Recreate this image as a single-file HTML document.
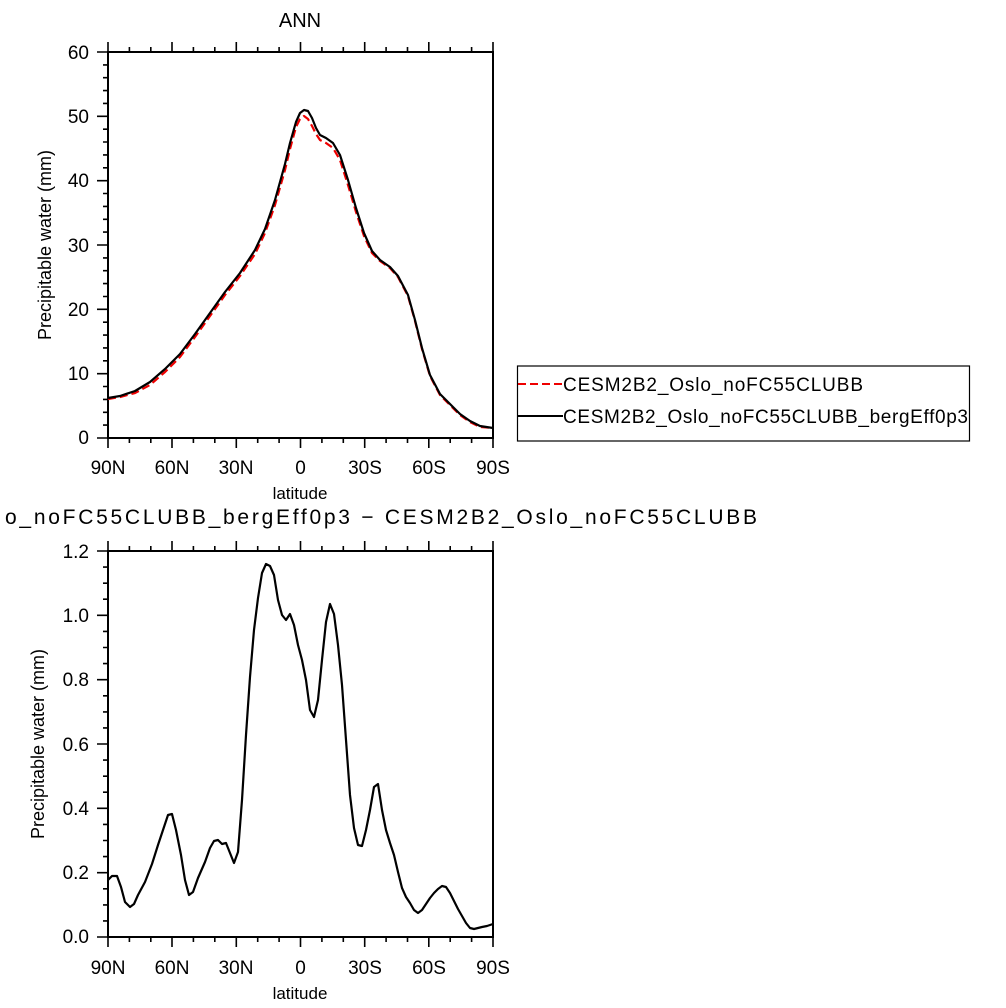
<!DOCTYPE html>
<html><head><style>body{margin:0;background:#fff}svg{display:block}</style></head><body>
<svg width="1006" height="1008" viewBox="0 0 1006 1008" xmlns="http://www.w3.org/2000/svg" font-family="Liberation Sans, sans-serif">
<rect width="1006" height="1008" fill="#fff"/>
<g id="top">
<text x="300" y="27" font-size="20" text-anchor="middle">ANN</text>
<rect x="108" y="52" width="385" height="386" fill="none" stroke="#000" stroke-width="2"/>
<g stroke="#000" stroke-width="1.6">
<path d="M108 52v-10M172 52v-10M236.3 52v-10M300.5 52v-10M364.7 52v-10M428.8 52v-10M493 52v-10
M108 438v10M172 438v10M236.3 438v10M300.5 438v10M364.7 438v10M428.8 438v10M493 438v10
M129.4 52v-5M150.8 52v-5M193.4 52v-5M214.8 52v-5M257.7 52v-5M279.1 52v-5M321.9 52v-5M343.3 52v-5M386.1 52v-5M407.5 52v-5M450.2 52v-5M471.6 52v-5
M129.4 438v5M150.8 438v5M193.4 438v5M214.8 438v5M257.7 438v5M279.1 438v5M321.9 438v5M343.3 438v5M386.1 438v5M407.5 438v5M450.2 438v5M471.6 438v5"/>
<path d="M108 52h-11M108 116.3h-11M108 180.7h-11M108 245h-11M108 309.3h-11M108 373.7h-11M108 438h-11"/>
<path d="M108 64.9h-5M108 77.7h-5M108 90.6h-5M108 103.4h-5M108 129.2h-5M108 142h-5M108 154.9h-5M108 167.8h-5M108 193.5h-5M108 206.4h-5M108 219.3h-5M108 232.1h-5M108 257.9h-5M108 270.7h-5M108 283.6h-5M108 296.5h-5M108 322.2h-5M108 335.1h-5M108 347.9h-5M108 360.8h-5M108 386.5h-5M108 399.4h-5M108 412.3h-5M108 425.1h-5"/>
</g>
<g font-size="19" text-anchor="end">
<text x="89" y="59">60</text><text x="89" y="123">50</text><text x="89" y="187">40</text><text x="89" y="252">30</text><text x="89" y="316">20</text><text x="89" y="380">10</text><text x="89" y="444">0</text>
</g>
<g font-size="19" text-anchor="middle">
<text x="108" y="474">90N</text><text x="172" y="474">60N</text><text x="236" y="474">30N</text><text x="300.5" y="474">0</text><text x="365" y="474">30S</text><text x="429" y="474">60S</text><text x="493" y="474">90S</text>
</g>
<text x="300" y="499" font-size="17" text-anchor="middle">latitude</text>
<text transform="translate(51,245) rotate(-90)" font-size="18" text-anchor="middle">Precipitable water (mm)</text>
<polyline fill="none" stroke="#e00" stroke-width="2.2" stroke-dasharray="8,4" stroke-linejoin="round" points="108,399 120,397 135,393 150,385 165,372 180,357 195,337 210,316 225,295 240,276 255,254 265,233 275,205 285,170 290,149 296,127 300,119 304,116 308,119 312,126 316,134 320,140 326,143 333,148 340,160 348,185 356,212 364,236 372,253 380,261 390,268 398,277 408,296 415,321 422,349 430,376 440,395 450,405 460,415 470,422 480,427 493,428"/>
<polyline fill="none" stroke="#000" stroke-width="2.2" stroke-linejoin="round" points="108,398 120,396 135,391 150,382 165,369 180,354 195,334 210,313 225,292 240,273 255,250 265,229 275,200 285,164 290,143 296,122 300,113 304,110 308,111 312,118 316,128 320,135 326,138 333,143 340,155 348,180 356,208 364,233 372,251 380,260 390,267 398,276 408,295 415,320 422,348 430,375 440,394 450,404 460,414 470,421 480,426 493,428"/>
<rect x="517.5" y="366" width="452" height="75" fill="#fff" stroke="#000" stroke-width="1.2"/>
<line x1="518" y1="384" x2="563" y2="384" stroke="#e00" stroke-width="2" stroke-dasharray="8,4"/>
<line x1="518" y1="416" x2="563" y2="416" stroke="#000" stroke-width="2"/>
<text x="563" y="391" font-size="19" textLength="300">CESM2B2_Oslo_noFC55CLUBB</text>
<text x="563" y="423" font-size="19" textLength="405">CESM2B2_Oslo_noFC55CLUBB_bergEff0p3</text>
</g>
<g id="bot">
<text x="5" y="524" font-size="21" textLength="752">o_noFC55CLUBB_bergEff0p3 − CESM2B2_Oslo_noFC55CLUBB</text>
<rect x="108" y="551" width="385" height="386" fill="none" stroke="#000" stroke-width="2"/>
<g stroke="#000" stroke-width="1.6">
<path d="M108 551v-10M172 551v-10M236.3 551v-10M300.5 551v-10M364.7 551v-10M428.8 551v-10M493 551v-10
M108 937v10M172 937v10M236.3 937v10M300.5 937v10M364.7 937v10M428.8 937v10M493 937v10
M129.4 551v-5M150.8 551v-5M193.4 551v-5M214.8 551v-5M257.7 551v-5M279.1 551v-5M321.9 551v-5M343.3 551v-5M386.1 551v-5M407.5 551v-5M450.2 551v-5M471.6 551v-5
M129.4 937v5M150.8 937v5M193.4 937v5M214.8 937v5M257.7 937v5M279.1 937v5M321.9 937v5M343.3 937v5M386.1 937v5M407.5 937v5M450.2 937v5M471.6 937v5"/>
<path d="M108 551h-11M108 615.3h-11M108 679.7h-11M108 744h-11M108 808.3h-11M108 872.7h-11M108 937h-11"/>
<path d="M108 567.1h-5M108 583.2h-5M108 599.2h-5M108 631.4h-5M108 647.5h-5M108 663.6h-5M108 695.8h-5M108 711.9h-5M108 727.9h-5M108 760.1h-5M108 776.2h-5M108 792.2h-5M108 824.4h-5M108 840.5h-5M108 856.6h-5M108 888.8h-5M108 904.9h-5M108 920.9h-5"/>
</g>
<g font-size="19" text-anchor="end">
<text x="89" y="558">1.2</text><text x="89" y="622">1.0</text><text x="89" y="686">0.8</text><text x="89" y="751">0.6</text><text x="89" y="815">0.4</text><text x="89" y="879">0.2</text><text x="89" y="943">0.0</text>
</g>
<g font-size="19" text-anchor="middle">
<text x="108" y="974">90N</text><text x="172" y="974">60N</text><text x="236" y="974">30N</text><text x="300.5" y="974">0</text><text x="365" y="974">30S</text><text x="429" y="974">60S</text><text x="493" y="974">90S</text>
</g>
<text x="300" y="999" font-size="17" text-anchor="middle">latitude</text>
<text transform="translate(44,744) rotate(-90)" font-size="18" text-anchor="middle">Precipitable water (mm)</text>
<polyline fill="none" stroke="#000" stroke-width="2.2" stroke-linejoin="round" points="108,880 112,876 117,876 121,887 125,902 130,907 134,904 138,895 145,882 152,864 158,845 163,830 168,815 172,814 176,830 181,855 185,880 189,895 193,892 198,878 205,862 210,848 214,841 218,840 222,844 226,843 230,853 234,863 238,852 242,800 246,735 250,677 254,630 258,598 262,573 266,564 270,566 274,575 278,600 282,615 286,620 290,614 294,625 298,645 302,660 306,680 310,710 314,717 318,700 322,660 326,622 330,604 334,614 338,645 342,685 346,740 350,795 354,828 358,845 362,846 366,830 370,810 374,787 378,784 382,810 386,830 390,843 394,855 398,872 402,888 406,897 410,903 414,910 418,913 422,910 426,904 430,898 434,893 438,889 442,886 446,887 450,893 454,901 458,909 462,916 466,923 470,928 474,929 478,928 482,927 487,926 493,924"/>
</g>
</svg>
</body></html>
